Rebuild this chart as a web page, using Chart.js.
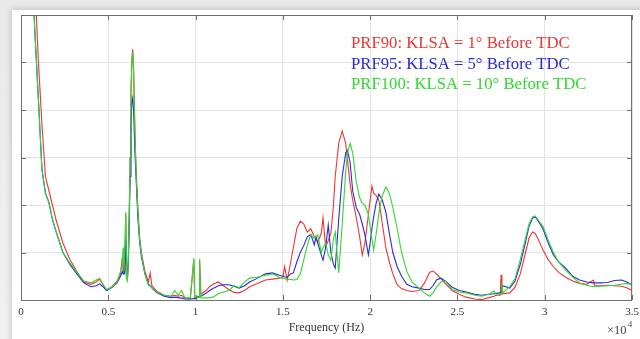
<!DOCTYPE html>
<html>
<head>
<meta charset="utf-8">
<script src="https://cdn.jsdelivr.net/npm/chart.js@4/dist/chart.umd.min.js"></script>
<style>
  html, body { margin: 0; padding: 0; }
  body { width: 640px; height: 339px; overflow: hidden; position: relative;
         background: linear-gradient(#e9e9e9, #f1f1f1); }
  #card { position: absolute; left: 12px; top: 10px; width: 650px; height: 350px;
          background: #fff; box-shadow: 0 0 7px rgba(0,0,0,0.22); }
  #grafico { position: absolute; left: 0; top: 0; }
</style>
</head>
<body>
<div id="card"></div>
<canvas id="grafico" width="640" height="339"></canvas>
<script>
// frequencia en unidades de 1e4 Hz
const freq = [0.04,0.06,0.08,0.1,0.12,0.14,0.16,0.18,0.2,0.24,0.28,0.32,0.36,0.4,0.43,0.45,0.47,0.49,0.52,0.55,
  0.57,0.58,0.585,0.59,0.595,0.6,0.605,0.61,0.615,0.62,0.625,0.63,0.635,0.64,0.645,0.65,0.655,0.66,0.67,0.68,
  0.69,0.71,0.73,0.74,0.75,0.78,0.82,0.86,0.88,0.9,0.92,0.94,0.97,0.99,0.995,1.02,1.023,1.03,1.06,1.08,
  1.1,1.13,1.16,1.19,1.22,1.25,1.28,1.31,1.35,1.4,1.44,1.48,1.5,1.51,1.525,1.545,1.56,1.58,1.6,1.62,
  1.64,1.66,1.68,1.69,1.7,1.72,1.73,1.745,1.76,1.775,1.79,1.8,1.82,1.84,1.86,1.87,1.885,1.9,1.92,1.94,
  1.955,1.97,1.99,2.0,2.01,2.02,2.035,2.05,2.07,2.09,2.11,2.13,2.155,2.18,2.21,2.24,2.28,2.31,2.34,2.36,
  2.38,2.405,2.43,2.47,2.51,2.55,2.6,2.64,2.68,2.71,2.72,2.745,2.75,2.755,2.76,2.8,2.83,2.86,2.89,2.91,
  2.93,2.945,2.96,2.99,3.02,3.05,3.08,3.12,3.16,3.2,3.24,3.28,3.285,3.32,3.36,3.4,3.44,3.47,3.5];

const prf90 = [9,8,6.6,5.0,3.7,2.6,2.3,2.0,1.7,1.2,0.85,0.6,0.38,0.33,0.38,0.44,0.32,0.2,0.28,0.4,
  0.55,0.9,0.6,1.1,0.6,1.8,0.5,0.45,0.9,1.8,3.0,4.4,5.1,5.28,4.9,4.0,3.2,2.7,1.9,1.3,
  1.0,0.6,0.38,0.57,0.3,0.18,0.1,0.08,0.1,0.08,0.1,0.04,0.03,0.85,0.05,0.08,0.86,0.12,0.2,0.28,
  0.33,0.38,0.3,0.22,0.16,0.15,0.2,0.28,0.34,0.42,0.44,0.46,0.48,0.7,0.42,0.8,1.1,1.5,1.66,1.6,
  1.43,1.5,1.33,1.28,1.22,1.4,1.73,1.12,1.25,1.4,2.0,2.6,3.3,3.56,3.3,2.95,2.45,2.1,1.75,1.33,
  0.95,1.2,1.8,2.1,2.4,2.25,2.2,2.1,1.6,1.1,0.8,0.55,0.32,0.24,0.2,0.18,0.2,0.35,0.58,0.61,
  0.55,0.45,0.35,0.2,0.12,0.06,0.02,0.01,0.05,0.08,0.1,0.1,0.53,0.12,0.13,0.15,0.27,0.55,1.0,1.3,
  1.43,1.4,1.3,1.05,0.85,0.7,0.58,0.48,0.4,0.35,0.33,0.42,0.3,0.3,0.31,0.3,0.29,0.26,0.2];

const prf95 = [9,7.2,5.6,4.2,2.75,2.25,2.05,1.7,1.45,1.0,0.75,0.55,0.36,0.28,0.3,0.34,0.28,0.2,0.26,0.36,
  0.5,0.6,0.55,0.7,0.6,1.3,0.6,0.5,0.8,1.6,2.6,3.7,4.15,4.25,4.0,3.4,2.9,2.5,1.7,1.2,
  0.9,0.55,0.32,0.3,0.25,0.15,0.08,0.05,0.06,0.05,0.04,0.02,0.02,0.03,0.03,0.06,0.07,0.08,0.14,0.2,
  0.24,0.3,0.32,0.32,0.29,0.25,0.3,0.38,0.45,0.55,0.57,0.52,0.5,0.49,0.48,0.55,0.57,0.8,1.0,1.15,
  1.33,1.38,1.16,1.33,1.2,0.95,0.84,1.1,1.58,1.0,0.75,0.67,1.7,2.6,3.1,3.15,2.9,2.3,1.95,1.8,
  1.6,1.37,0.95,1.2,1.5,1.75,2.05,2.23,2.1,1.85,1.4,1.0,0.7,0.5,0.33,0.28,0.25,0.22,0.22,0.3,
  0.42,0.46,0.4,0.27,0.2,0.17,0.12,0.1,0.12,0.13,0.14,0.15,0.18,0.2,0.3,0.25,0.4,0.75,1.22,1.55,
  1.72,1.75,1.68,1.5,1.2,0.95,0.8,0.67,0.5,0.42,0.38,0.36,0.36,0.36,0.37,0.41,0.42,0.38,0.32];

const prf100 = [9,7.2,5.6,4.2,2.75,2.25,2.05,1.7,1.45,1.0,0.78,0.58,0.4,0.36,0.42,0.46,0.33,0.22,0.27,0.38,
  0.6,0.75,1.1,0.6,1.2,1.85,0.45,0.4,0.9,1.8,3.0,4.3,5.0,5.22,4.8,3.9,3.2,2.6,1.8,1.25,
  0.95,0.55,0.34,0.3,0.26,0.17,0.1,0.08,0.2,0.1,0.2,0.04,0.05,0.88,0.06,0.05,0.86,0.05,0.04,0.05,
  0.06,0.13,0.17,0.2,0.3,0.26,0.38,0.46,0.48,0.52,0.55,0.48,0.46,0.45,0.44,0.43,0.42,0.43,0.55,0.85,
  1.15,1.37,1.3,1.33,1.37,1.0,1.1,1.2,0.95,0.84,1.3,1.43,0.57,1.6,2.7,3.1,3.3,3.1,2.5,2.15,
  2.04,2.0,1.8,1.54,1.3,1.05,1.4,1.83,2.2,2.38,2.25,1.95,1.5,1.0,0.6,0.38,0.25,0.15,0.08,0.15,
  0.27,0.38,0.4,0.22,0.17,0.15,0.1,0.08,0.12,0.19,0.12,0.12,0.14,0.37,0.15,0.28,0.45,0.85,1.3,1.6,
  1.75,1.77,1.7,1.55,1.26,1.0,0.8,0.63,0.48,0.36,0.31,0.28,0.28,0.29,0.3,0.31,0.33,0.35,0.32];

const xTicks = [0, 0.5, 1, 1.5, 2, 2.5, 3, 3.5];

const serif = '"Liberation Serif", "Times New Roman", serif';

const serie = (label, ys, color, order) => ({
  label: label,
  data: freq.map((f, i) => ({ x: f, y: ys[i] })),
  borderColor: color,
  borderWidth: 1.1,
  pointRadius: 0,
  fill: false,
  order: order
});

// marco, marcas interiores, leyenda de texto y exponente
const marco = {
  id: 'marco',
  afterDraw(chart) {
    const { ctx, chartArea: a, scales } = chart;
    ctx.save();
    ctx.strokeStyle = '#707070';
    ctx.lineWidth = 1;
    ctx.strokeRect(a.left + 0.5, a.top + 0.5, a.right - a.left - 1, a.bottom - a.top);
    ctx.beginPath();
    scales.x.ticks.forEach(t => {
      const px = Math.round(scales.x.getPixelForValue(t.value)) + 0.5;
      ctx.moveTo(px, a.bottom); ctx.lineTo(px, a.bottom - 5);
      ctx.moveTo(px, a.top); ctx.lineTo(px, a.top + 5);
    });
    scales.y.ticks.forEach(t => {
      const py = Math.round(scales.y.getPixelForValue(t.value)) + 0.5;
      ctx.moveTo(a.left, py); ctx.lineTo(a.left + 5, py);
      ctx.moveTo(a.right, py); ctx.lineTo(a.right - 5, py);
    });
    ctx.stroke();

    ctx.font = '16.7px ' + serif;
    ctx.textBaseline = 'alphabetic';
    chart.data.datasets.forEach((d, i) => {
      ctx.fillStyle = d.borderColor;
      ctx.fillText(d.label, 351, 48 + i * 20.5);
    });

    ctx.fillStyle = '#444';
    ctx.font = '12.5px ' + serif;
    ctx.fillText('\u00d710', 607, 334);
    ctx.font = '8.5px ' + serif;
    ctx.fillText('4', 628, 327);
    ctx.restore();
  }
};

new Chart(document.getElementById('grafico').getContext('2d'), {
  type: 'line',
  data: {
    datasets: [
      serie('PRF90: KLSA = 1\u00b0 Before TDC', prf90, '#ee3535', 2),
      serie('PRF95: KLSA = 5\u00b0 Before TDC', prf95, '#2a2ad8', 1),
      serie('PRF100: KLSA = 10\u00b0 Before TDC', prf100, '#30d830', 0)
    ]
  },
  options: {
    responsive: false,
    animation: false,
    devicePixelRatio: 1,
    layout: { padding: { left: 0, right: 8, top: 15, bottom: 0 } },
    plugins: { legend: { display: false }, tooltip: { enabled: false } },
    elements: { line: { tension: 0 } },
    scales: {
      x: {
        type: 'linear',
        min: 0,
        max: 3.5,
        afterBuildTicks: s => { s.ticks = xTicks.map(v => ({ value: v })); },
        afterFit: s => { s.height = 39; s.paddingLeft = 0; s.paddingRight = 0; },
        grid: { color: '#e4e4e4', drawTicks: false },
        border: { display: false },
        ticks: { padding: 6, color: '#333', font: { family: serif, size: 11 },
                 maxRotation: 0, callback: v => String(v) },
        title: { display: true, text: 'Frequency (Hz)', color: '#333',
                 font: { family: serif, size: 12 }, padding: { top: 2, bottom: 4 } }
      },
      y: {
        min: 0,
        max: 6,
        afterFit: s => { s.width = 21; },
        grid: { color: '#e4e4e4', drawTicks: false },
        border: { display: false },
        ticks: { display: false, stepSize: 1 }
      }
    }
  },
  plugins: [marco]
});
</script>
</body>
</html>
